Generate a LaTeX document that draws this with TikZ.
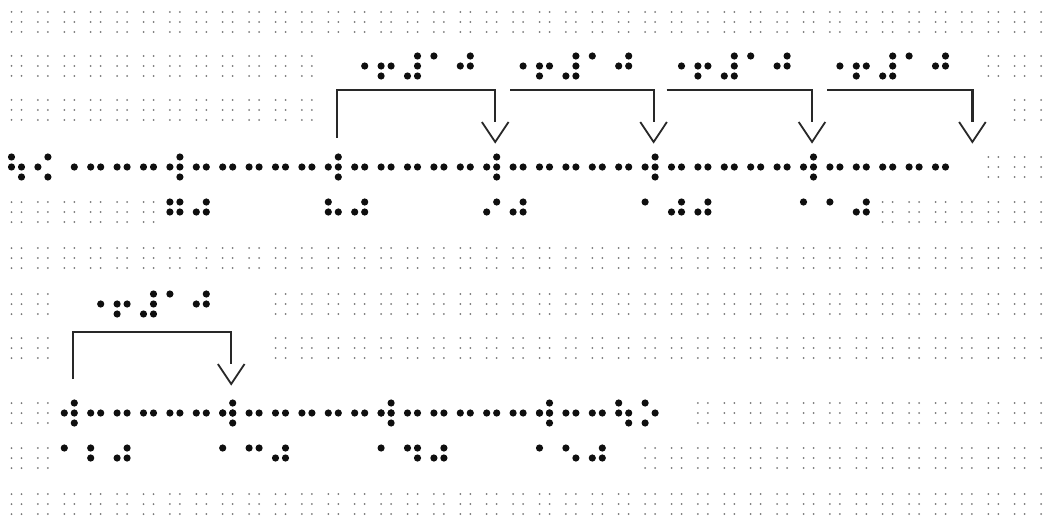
\documentclass[tikz,border=0pt]{standalone}
\usepackage{xcolor}
\usepackage{tikz}
\definecolor{inkdot}{RGB}{15,15,15}
\definecolor{griddot}{RGB}{120,120,120}
\definecolor{jumpgray}{RGB}{40,40,40}
% braille cell geometry: cell pitch 26.4, dot pitch 10
\newcommand{\cellx}[1]{11.5+26.4*(#1)}
\newcommand{\brcell}[3]{%
  \foreach \d in {#3} {
    \pgfmathsetmacro{\dx}{\d>3 ? 10 : 0}
    \pgfmathsetmacro{\dy}{10*mod(\d-1,3)}
    \fill[brdot] ({\cellx{#1}+\dx},{#2+\dy}) circle[radius=3.6];
  }}
\newcommand{\blankcells}[3]{%
  \foreach \c in {#1,...,#2} {
    \foreach \dx in {0,10} \foreach \dy in {0,10,20}
      \fill[gdot] ({\cellx{\c}+\dx},{#3+\dy}) circle[radius=1];
  }}
\newcommand{\plusten}[2]{%
  \brcell{#1}{#2}{5}\brcell{#1+1}{#2}{2,3,5}\brcell{#1+2}{#2}{3,4,5,6}%
  \brcell{#1+3}{#2}{1}\brcell{#1+4}{#2}{2,4,5}}
\newcommand{\vtip}[1]{\draw[barb, shift={(#1)}] (-13.3,32) -- (0,52) -- (13.3,32);}

\begin{document}
\begin{tikzpicture}[
    x=1pt, y=-1pt,
    brdot/.style={fill=inkdot},
    gdot/.style={fill=griddot},
    jump/.style={draw=jumpgray, line width=2.2pt},
    barb/.style={draw=jumpgray, line width=1.8pt}
  ]
  \fill[white] (0,0) rectangle (1049,516);
  \useasboundingbox (0,0) rectangle (1049,516);

  % empty cells
  \blankcells{0}{39}{12}
  \blankcells{0}{11}{56}  \blankcells{37}{39}{56}
  \blankcells{0}{11}{100} \blankcells{38}{39}{100}
  \blankcells{37}{39}{157}
  \blankcells{0}{5}{202}  \blankcells{33}{39}{202}
  \blankcells{0}{39}{248}
  \blankcells{0}{1}{294}  \blankcells{10}{39}{294}
  \blankcells{0}{1}{338}  \blankcells{10}{39}{338}
  \blankcells{0}{1}{403}  \blankcells{26}{39}{403}
  \blankcells{0}{1}{448}  \blankcells{24}{39}{448}
  \blankcells{0}{39}{494}

  % first number line
  \brcell{0}{157}{1,2,5,6}
  \brcell{1}{157}{2,4,6}
  \brcell{2}{157}{5}
  \foreach \c in {3,...,35} {\brcell{\c}{157}{2,5}}
  \foreach \c in {6,12,...,30} {\brcell{\c}{157}{4,6}}

  % tick labels 70 ... 110
  \brcell{6}{202}{1,2,4,5}  \brcell{7}{202}{2,4,5}
  \brcell{12}{202}{1,2,5}   \brcell{13}{202}{2,4,5}
  \brcell{18}{202}{2,4}     \brcell{19}{202}{2,4,5}
  \brcell{24}{202}{1}       \brcell{25}{202}{2,4,5} \brcell{26}{202}{2,4,5}
  \brcell{30}{202}{1}       \brcell{31}{202}{1}     \brcell{32}{202}{2,4,5}

  % jump labels
  \foreach \c in {13,19,25,31} {\plusten{\c}{56}}

  % jumps
  \coordinate (j0) at ({\cellx{12}+8.5},90);
  \coordinate (j1) at ({\cellx{18}+8.5},90);
  \coordinate (j2) at ({\cellx{24}+8.5},90);
  \coordinate (j3) at ({\cellx{30}+8.5},90);
  \coordinate (j4) at ({\cellx{36}+10.5},90);
  \draw[jump] (j0) ++(0,48) -- (j0) -- (j1) -- ++(0,32);
  \draw[jump] ([xshift=15]j1) -- (j2) -- ++(0,32);
  \draw[jump] ([xshift=13]j2) -- (j3) -- ++(0,32);
  \draw[jump] ([xshift=15]j3) -- (j4) -- ++(0,32);
  \vtip{j1} \vtip{j2} \vtip{j3} \vtip{j4}

  % second number line
  \foreach \c in {3,...,22} {\brcell{\c}{403}{2,5}}
  \foreach \c in {2,8,...,20} {\brcell{\c}{403}{2,4,5,6}}
  \brcell{23}{403}{1,2,5,6}
  \brcell{24}{403}{1,3,5}

  % tick labels 120 ... 150
  \brcell{2}{448}{1}  \brcell{3}{448}{1,2}   \brcell{4}{448}{2,4,5}
  \brcell{8}{448}{1}  \brcell{9}{448}{1,4}   \brcell{10}{448}{2,4,5}
  \brcell{14}{448}{1} \brcell{15}{448}{1,4,5} \brcell{16}{448}{2,4,5}
  \brcell{20}{448}{1} \brcell{21}{448}{1,5}  \brcell{22}{448}{2,4,5}

  \plusten{3}{294}

  \coordinate (k0) at ({\cellx{2}+8.5},332);
  \coordinate (k1) at ({\cellx{8}+8.5},332);
  \draw[jump] (k0) ++(0,47) -- (k0) -- (k1) -- ++(0,32);
  \vtip{k1}

\end{tikzpicture}
\end{document}
